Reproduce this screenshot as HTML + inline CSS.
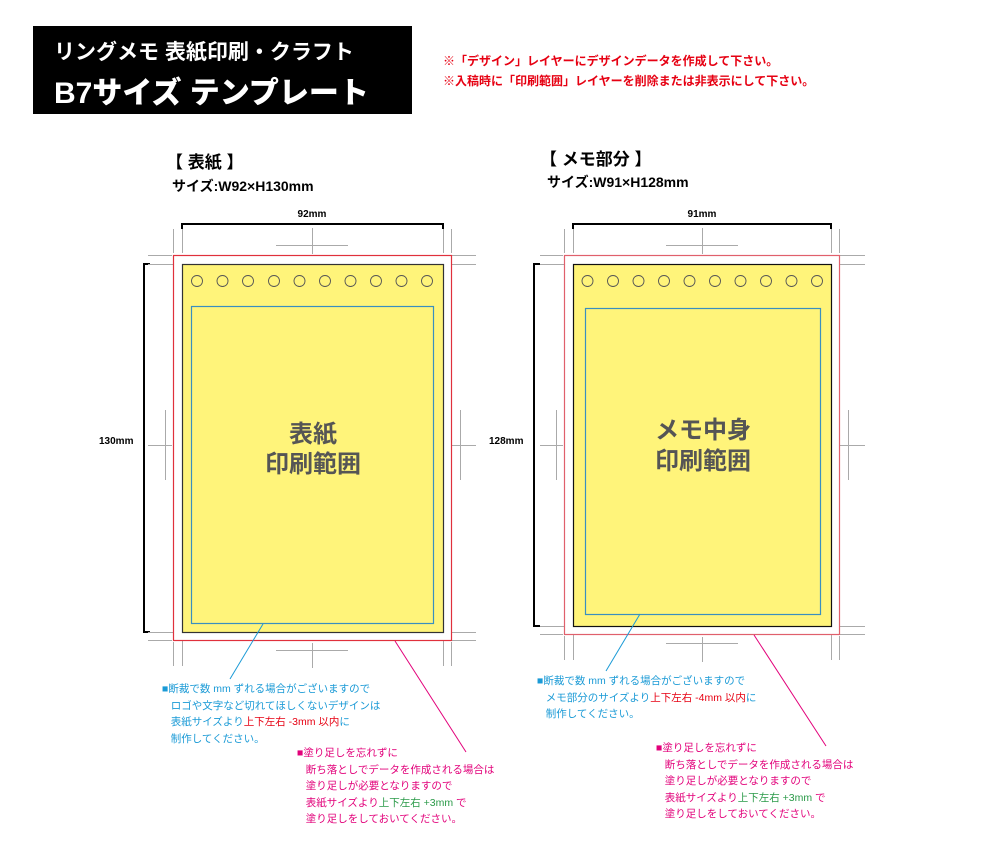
<!DOCTYPE html>
<html><head><meta charset="utf-8"><style>
html,body{margin:0;padding:0;background:#fff}
body{width:992px;height:850px;position:relative;overflow:hidden;font-family:"Liberation Sans","Noto Sans CJK JP",sans-serif}
.t{position:absolute;white-space:nowrap}
.b{color:#1a9ad6;font-size:10.5px;line-height:16.5px}
.m{color:#e2007a;font-size:10.5px;line-height:16.5px}
</style></head><body>
<div class="t" style="left:33px;top:26px;width:379px;height:88px;background:#000"></div>
<div class="t" style="left:54px;top:36px;color:#fff;font-size:21px;font-weight:bold">リングメモ 表紙印刷・クラフト</div>
<div class="t" style="left:54px;top:68px;color:#fff;font-size:30px;font-weight:900">B7サイズ テンプレート</div>
<div class="t" style="left:443px;top:51px;color:#e60012;font-size:12px;font-weight:bold;line-height:20px">※「デザイン」レイヤーにデザインデータを作成して下さい。<br>※入稿時に「印刷範囲」レイヤーを削除または非表示にして下さい。</div>
<div class="t" style="left:166px;top:148px;font-size:17px;font-weight:bold">【 表紙 】</div>
<div class="t" style="left:172px;top:176px;font-size:14px;font-weight:bold">サイズ:W92×H130mm</div>
<div class="t" style="left:540px;top:145px;font-size:17px;font-weight:bold">【 メモ部分 】</div>
<div class="t" style="left:547px;top:172px;font-size:14px;font-weight:bold">サイズ:W91×H128mm</div>

<svg width="992" height="850" style="position:absolute;left:0;top:0">
<g font-family="Liberation Sans, sans-serif" font-weight="bold" font-size="10" fill="#000">
<text x="312" y="217" text-anchor="middle">92mm</text>
<text x="702" y="217" text-anchor="middle">91mm</text>
<text x="99" y="444">130mm</text>
<text x="489" y="444">128mm</text>
</g>
<g stroke="#000" stroke-width="2" fill="none">
<path d="M182 229V224H443V229"/><path d="M150 264H144V632H150"/>
<path d="M573 229V224H831V229"/><path d="M540 264H534V626H540"/>
</g>
<g stroke="#aaa" stroke-width="1" fill="none">
<path d="M173.5 229V253M182.5 229V253M443.5 229V253M451.5 229V253"/>
<path d="M148 255.5H172M148 264.5H181M452 255.5H476M444 264.5H476"/>
<path d="M173.5 642V666M182.5 634V666M443.5 634V666M451.5 642V666"/>
<path d="M148 640.5H172M148 632.5H181M452 640.5H476M444 632.5H476"/>
<path d="M276 245.5H348M312.5 228V254M276 650.5H348M312.5 643V668"/>
<path d="M165.5 410V480M148 445.5H172M460.5 410V480M452 445.5H476"/>
</g>
<g stroke="#aaa" stroke-width="1" fill="none">
<path d="M564.5 229V253M573.5 229V253M831.5 229V253M839.5 229V253"/>
<path d="M540 255.5H563M540 264.5H572M840 255.5H865M832 264.5H865"/>
<path d="M564.5 636V660M573.5 628V660M831.5 628V660M839.5 636V660"/>
<path d="M540 634.5H563M540 626.5H572M840 634.5H865M832 626.5H865"/>
<path d="M666 245.5H738M702.5 228V254M666 643.5H738M702.5 637V662"/>
<path d="M556.5 410V480M540 445.5H563M848.5 410V480M840 445.5H865"/>
</g>
<rect x="173.5" y="255.5" width="278" height="385" fill="#fff" stroke="#e0303c" stroke-width="1.2"/>
<rect x="182.5" y="264.5" width="261" height="368" fill="#fff47a" stroke="#333" stroke-width="1.2"/>
<rect x="191.5" y="306.5" width="242" height="317" fill="none" stroke="#3a8fc0" stroke-width="1.2"/>
<rect x="564.5" y="255.5" width="275" height="379" fill="#fff" stroke="#e0606c" stroke-width="1.2"/>
<rect x="573.5" y="264.5" width="258" height="362" fill="#fff47a" stroke="#111" stroke-width="1.2"/>
<rect x="585.5" y="308.5" width="235" height="306" fill="none" stroke="#3a8fc0" stroke-width="1.2"/>
<g fill="none" stroke="#555" stroke-width="0.9">
<circle cx="197" cy="281" r="5.5"/><circle cx="222.5" cy="281" r="5.5"/><circle cx="248" cy="281" r="5.5"/><circle cx="274" cy="281" r="5.5"/><circle cx="299.5" cy="281" r="5.5"/><circle cx="325" cy="281" r="5.5"/><circle cx="350.5" cy="281" r="5.5"/><circle cx="376" cy="281" r="5.5"/><circle cx="401.5" cy="281" r="5.5"/><circle cx="427" cy="281" r="5.5"/>
<circle cx="587.5" cy="281" r="5.5"/><circle cx="613" cy="281" r="5.5"/><circle cx="638.5" cy="281" r="5.5"/><circle cx="664" cy="281" r="5.5"/><circle cx="689.5" cy="281" r="5.5"/><circle cx="715" cy="281" r="5.5"/><circle cx="740.5" cy="281" r="5.5"/><circle cx="766" cy="281" r="5.5"/><circle cx="791.5" cy="281" r="5.5"/><circle cx="817" cy="281" r="5.5"/>
</g>
<g font-family="Liberation Sans, Noto Sans CJK JP, sans-serif" font-weight="bold" font-size="24" fill="#555" text-anchor="middle">
<text x="313" y="442">表紙</text><text x="313" y="472">印刷範囲</text>
<text x="703" y="438">メモ中身</text><text x="703" y="469">印刷範囲</text>
</g>
<path d="M263 624L230 679" stroke="#1a9ad6" stroke-width="1"/>
<path d="M395 641L466 752" stroke="#e2007a" stroke-width="1"/>
<path d="M640 614L606 671" stroke="#1a9ad6" stroke-width="1"/>
<path d="M754 635L826 746" stroke="#e2007a" stroke-width="1"/>
</svg>

<div class="t b" style="left:162px;top:681px">■断裁で数 mm ずれる場合がございますので<br>&nbsp;&nbsp;&nbsp;ロゴや文字など切れてほしくないデザインは<br>&nbsp;&nbsp;&nbsp;表紙サイズより<span style="color:#e60012">上下左右 -3mm 以内</span>に<br>&nbsp;&nbsp;&nbsp;制作してください。</div>
<div class="t m" style="left:297px;top:745px">■塗り足しを忘れずに<br>&nbsp;&nbsp;&nbsp;断ち落としでデータを作成される場合は<br>&nbsp;&nbsp;&nbsp;塗り足しが必要となりますので<br>&nbsp;&nbsp;&nbsp;表紙サイズより<span style="color:#2a9a48">上下左右 +3mm</span> で<br>&nbsp;&nbsp;&nbsp;塗り足しをしておいてください。</div>
<div class="t b" style="left:537px;top:673px">■断裁で数 mm ずれる場合がございますので<br>&nbsp;&nbsp;&nbsp;メモ部分のサイズより<span style="color:#e60012">上下左右 -4mm 以内</span>に<br>&nbsp;&nbsp;&nbsp;制作してください。</div>
<div class="t m" style="left:656px;top:740px">■塗り足しを忘れずに<br>&nbsp;&nbsp;&nbsp;断ち落としでデータを作成される場合は<br>&nbsp;&nbsp;&nbsp;塗り足しが必要となりますので<br>&nbsp;&nbsp;&nbsp;表紙サイズより<span style="color:#2a9a48">上下左右 +3mm</span> で<br>&nbsp;&nbsp;&nbsp;塗り足しをしておいてください。</div>
</body></html>
